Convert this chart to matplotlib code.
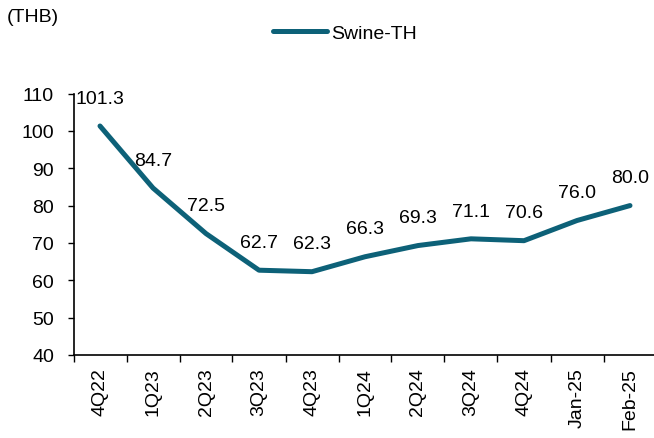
import matplotlib.pyplot as plt
import numpy as np

plt.rcParams['font.family'] = ['Liberation Sans', 'DejaVu Sans']

# Data
periods = ["4Q22", "1Q23", "2Q23", "3Q23", "4Q23", "1Q24",
           "2Q24", "3Q24", "4Q24", "Jan-25", "Feb-25"]
swine_th = [101.3, 84.7, 72.5, 62.7, 62.3, 66.3, 69.3, 71.1, 70.6, 76.0, 80.0]

line_color = "#0d6178"
fs = 14

fig = plt.figure(figsize=(6.54, 4.39), dpi=100)
ax = fig.add_axes([73.5 / 654, 1 - 356 / 439, 583 / 654, 261.5 / 439])

x = np.arange(len(periods))
ax.plot(x, swine_th, color=line_color, linewidth=3.6, solid_capstyle='round',
        solid_joinstyle='round', label="Swine-TH")

# value labels above each point
for xi, v in zip(x, swine_th):
    ax.annotate(f"{v:.1f}", (xi, v), xytext=(0, 20), textcoords='offset points',
                ha='center', va='center', fontsize=fs, color='black')

ax.set_xlim(-0.5, len(periods) - 0.5)
ax.set_ylim(40, 110)
ax.set_yticks(range(40, 111, 10))
ax.tick_params(axis='y', labelsize=fs, direction='out', length=4, width=1, pad=10)

# category axis: ticks on boundaries, labels at centers
ax.set_xticks(np.arange(-0.5, len(periods) - 0.5, 1))
ax.set_xticklabels([])
ax.set_xticks(x, minor=True)
ax.set_xticklabels(periods, minor=True, rotation=90, fontsize=fs)
ax.tick_params(axis='x', which='major', direction='out', length=5, width=1)
ax.tick_params(axis='x', which='minor', length=0, pad=9)

for s in ['top', 'right']:
    ax.spines[s].set_visible(False)
for s in ['left', 'bottom']:
    ax.spines[s].set_linewidth(1.2)
    ax.spines[s].set_color('black')

fig.text(7 / 654, 1 - 18 / 439, "(THB)", fontsize=fs, ha='left', va='center')

fig.legend(loc='center', bbox_to_anchor=(0.527, 1 - 34 / 439), frameon=False,
           fontsize=fs, handlelength=2.8, handletextpad=0.2)

plt.savefig("out.png", dpi=100)
